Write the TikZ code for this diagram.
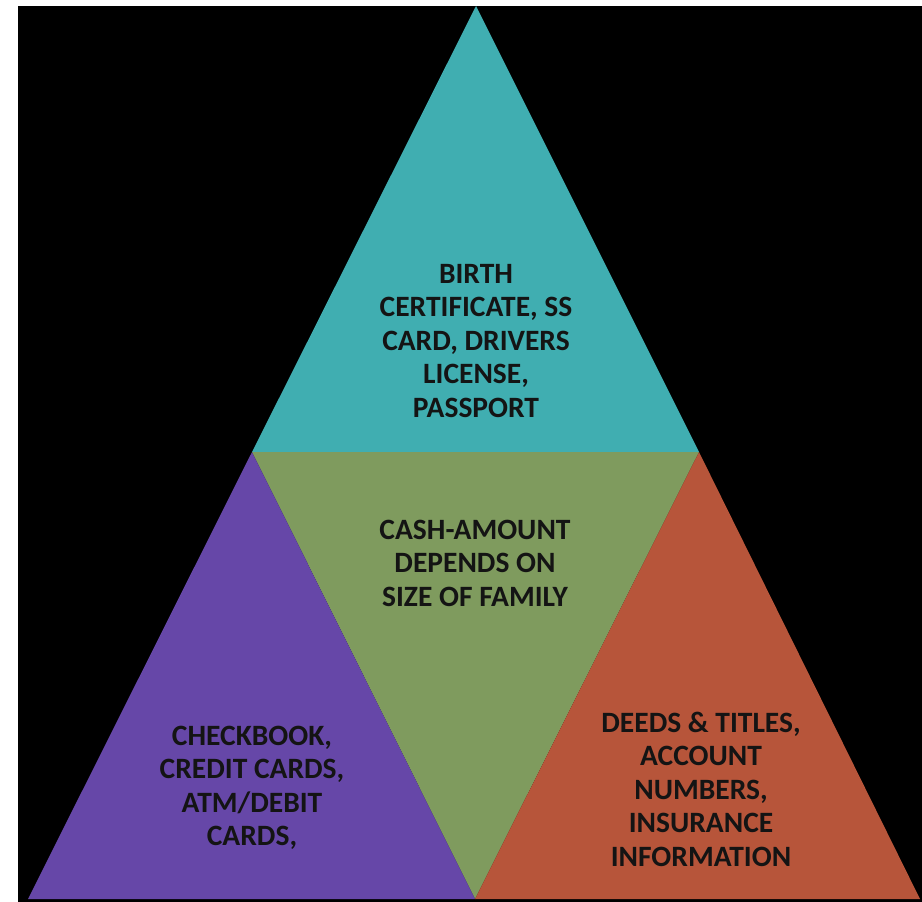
\documentclass[tikz,border=0pt]{standalone}
\usepackage{fontspec}
\setmainfont{Carlito}
\definecolor{topteal}{RGB}{64,174,177}
\definecolor{midgreen}{RGB}{127,155,94}
\definecolor{leftpurple}{RGB}{102,71,168}
\definecolor{rightorange}{RGB}{183,85,58}
\definecolor{labeltext}{RGB}{20,20,20}
\begin{document}
\begin{tikzpicture}[x=1pt,y=-1pt,
  label/.style={align=center, text=labeltext, inner sep=0pt,
    font=\fontsize{29.5}{33.5}\selectfont\bfseries}]
  % page and black backdrop
  \fill[white] (0,0) rectangle (922,902);
  \useasboundingbox (0,0) rectangle (922,902);
  \fill[black] (18,6) rectangle (922,902);
  % corners of the large triangle and midpoints of its sides
  \coordinate (apex) at (476,6);
  \coordinate (bl) at (28,899);
  \coordinate (br) at (920,899);
  \coordinate (ml) at (252,452);
  \coordinate (mr) at (699,452);
  \coordinate (mb) at (475,899);
  % four sub-triangles
  \fill[topteal] (apex) -- (ml) -- (mr) -- cycle;
  \fill[midgreen] (ml) -- (mr) -- (mb) -- cycle;
  \fill[leftpurple] (ml) -- (bl) -- (mb) -- cycle;
  \fill[rightorange] (mr) -- (mb) -- (br) -- cycle;
  % labels
  \node[label] (docs) at (476,341) {BIRTH\\CERTIFICATE, SS\\CARD, DRIVERS\\LICENSE,\\PASSPORT};
  \node[label] (cash) at (475,563) {CASH-AMOUNT\\DEPENDS ON\\SIZE OF FAMILY};
  \node[label] (cards) at (252,788) {CHECKBOOK,\\CREDIT CARDS,\\ATM/DEBIT\\CARDS,};
  \node[label] (deeds) at (701,789) {DEEDS \& TITLES,\\ACCOUNT\\NUMBERS,\\INSURANCE\\INFORMATION};
\end{tikzpicture}
\end{document}
